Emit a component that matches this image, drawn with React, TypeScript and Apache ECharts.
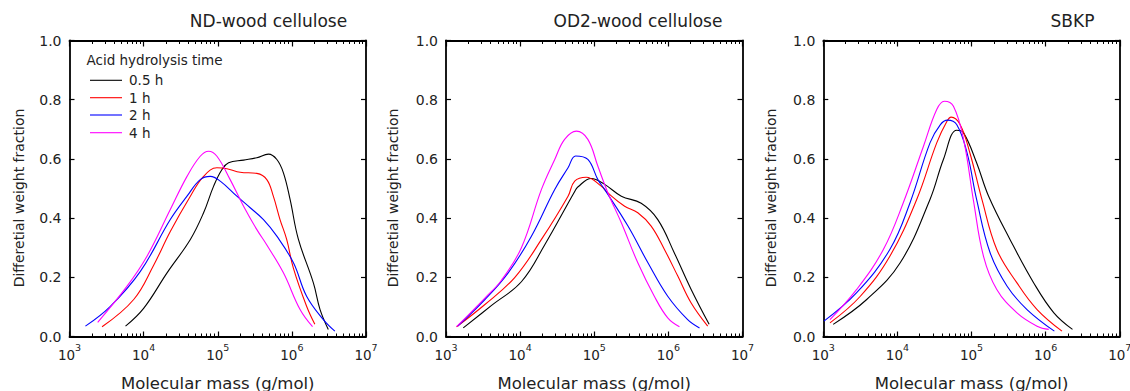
import React, { useEffect, useRef } from "react";
import * as echarts from "echarts";

const FONT = "'DejaVu Sans', 'Liberation Sans', sans-serif";
const TEXT = "#222222";

const panelTitles = ["ND-wood cellulose", "OD2-wood cellulose", "SBKP"];
const seriesNames = ["0.5 h", "1 h", "2 h", "4 h"];
const seriesColors = ["#000000", "#ff0000", "#0000ff", "#ff00ff"];
const legendHeading = "Acid hydrolysis time";
const xAxisTitle = "Molecular mass (g/mol)";
const yAxisTitle = "Differetial weight fraction";
const xExponentMin = 3;
const xExponentMax = 7;
const yMin = 0;
const yMax = 1;
const yStep = 0.2;

// [molecular mass (g/mol), differential weight fraction]
// ND-wood cellulose
const nd05 = [[5.7e3, 0.035], [1.0e4, 0.095], [2.07e4, 0.215], [4.27e4, 0.328], [6.44e4, 0.418], [8.8e4, 0.508], [1.14e5, 0.564], [1.4e5, 0.587], [2.23e5, 0.596], [3.37e5, 0.604], [4.83e5, 0.616], [6.27e5, 0.598], [7.69e5, 0.553], [9.46e5, 0.463], [1.22e6, 0.33], [1.95e6, 0.181], [2.4e6, 0.091], [3.1e6, 0.024]];
const nd1 = [[2.75e3, 0.033], [7.35e3, 0.125], [1.36e4, 0.24], [2.29e4, 0.355], [4.27e4, 0.474], [6.44e4, 0.541], [9.75e4, 0.57], [1.33e5, 0.567], [2.01e5, 0.555], [3.37e5, 0.551], [4.59e5, 0.53], [5.62e5, 0.474], [6.92e5, 0.395], [8.51e5, 0.328], [1.05e6, 0.23], [1.58e6, 0.102], [2.04e6, 0.041]];
const nd2 = [[1.64e3, 0.035], [3.56e3, 0.102], [9.04e3, 0.22], [2.29e4, 0.395], [3.85e4, 0.474], [5.8e4, 0.53], [7.93e4, 0.541], [1.08e5, 0.525], [1.81e5, 0.474], [2.74e5, 0.435], [4.14e5, 0.395], [6.27e5, 0.339], [1.05e6, 0.249], [1.58e6, 0.136], [2.66e6, 0.057], [3.8e6, 0.018]];
const nd4 = [[2.4e3, 0.048], [5.98e3, 0.17], [1.11e4, 0.271], [2.29e4, 0.429], [3.85e4, 0.541], [5.8e4, 0.609], [7.52e4, 0.626], [9.75e4, 0.609], [1.47e5, 0.53], [2.23e5, 0.44], [3.37e5, 0.361], [4.57e5, 0.31], [7.69e5, 0.215], [1.29e6, 0.091], [1.9e6, 0.033]];

// OD2-wood cellulose
const od05 = [[1.71e3, 0.029], [4.12e3, 0.105], [1.04e4, 0.185], [2.15e4, 0.31], [5.45e4, 0.49], [6.0e4, 0.505], [9.1e4, 0.534], [1.38e5, 0.514], [2.32e5, 0.474], [4.3e5, 0.45], [7.2e5, 0.395], [1.2e6, 0.283], [2.03e6, 0.159], [3.55e6, 0.041]];
const od1 = [[1.39e3, 0.033], [3.35e3, 0.108], [8.5e3, 0.2], [1.94e4, 0.328], [4.43e4, 0.474], [5.45e4, 0.525], [7.8e4, 0.538], [1.24e5, 0.508], [1.53e5, 0.485], [2.57e5, 0.44], [3.87e5, 0.418], [5.86e5, 0.373], [8.85e5, 0.294], [1.34e6, 0.204], [2.03e6, 0.113], [3.39e6, 0.035]];
const od2 = [[1.44e3, 0.035], [3.35e3, 0.125], [6.9e3, 0.215], [1.42e4, 0.339], [2.93e4, 0.497], [4.43e4, 0.57], [5.6e4, 0.61], [8.2e4, 0.598], [1.12e5, 0.53], [1.38e5, 0.497], [2.85e5, 0.373], [5.3e5, 0.249], [9.8e5, 0.136], [1.82e6, 0.057], [2.63e6, 0.029]];
const od4 = [[1.39e3, 0.033], [3.35e3, 0.13], [5.6e3, 0.19], [1.04e4, 0.3], [1.94e4, 0.497], [2.93e4, 0.598], [3.98e4, 0.666], [5.74e4, 0.694], [8.2e4, 0.666], [1.12e5, 0.575], [1.53e5, 0.485], [2.32e5, 0.384], [3.87e5, 0.249], [6.46e5, 0.136], [9.8e5, 0.063], [1.41e6, 0.033]];

// SBKP
const sb05 = [[1.36e3, 0.041], [3.85e3, 0.125], [1.09e4, 0.249], [2.75e4, 0.463], [4.17e4, 0.598], [6.3e4, 0.697], [7.8e4, 0.688], [1.17e5, 0.587], [1.7e5, 0.474], [3.3e5, 0.328], [6.9e5, 0.181], [1.29e6, 0.08], [2.3e6, 0.024]];
const sb1 = [[1.23e3, 0.046], [3.16e3, 0.136], [7.9e3, 0.271], [1.82e4, 0.463], [3.39e4, 0.654], [4.66e4, 0.727], [5.3e4, 0.741], [7.0e4, 0.716], [9.5e4, 0.62], [1.38e5, 0.463], [2.19e5, 0.294], [4.1e5, 0.181], [7.66e5, 0.091], [1.66e6, 0.018]];
const sb2 = [[1.02e3, 0.052], [2.82e3, 0.148], [7.9e3, 0.294], [1.48e4, 0.452], [2.75e4, 0.654], [3.8e4, 0.716], [4.74e4, 0.731], [6.3e4, 0.716], [8.7e4, 0.62], [1.17e5, 0.463], [1.78e5, 0.283], [3.02e5, 0.17], [5.6e5, 0.091], [1.31e6, 0.018]];
const sb4 = [[1.23e3, 0.057], [2.82e3, 0.159], [6.46e3, 0.294], [1.2e4, 0.452], [2.24e4, 0.642], [3.39e4, 0.767], [4.3e4, 0.795], [5.7e4, 0.778], [7.8e4, 0.666], [1.06e5, 0.46], [1.45e5, 0.271], [2.19e5, 0.159], [4.1e5, 0.08], [7.66e5, 0.035], [1.1e6, 0.024]];

const panelData = [
  [nd05, nd1, nd2, nd4],
  [od05, od1, od2, od4],
  [sb05, sb1, sb2, sb4],
];

// layout (pixels)
const gridLefts = [69.5, 446, 823.3];
const gridWidth = 296.5;
const gridTop = 40.5;
const gridHeight = 296;
const titleCenters = [268.5, 638, 1072.5];
const yNameX = [19, 392.5, 771];
const legendRowY = [80.3, 97.7, 115, 132.7];

function minorTickValues(): number[] {
  const out: number[] = [];
  for (let d = xExponentMin; d < xExponentMax; d++) {
    for (let k = 2; k <= 9; k++) out.push(d + Math.log10(k));
  }
  return out;
}

export default function App() {
  const ref = useRef<HTMLDivElement>(null);

  useEffect(() => {
    if (!ref.current) return;
    const chart = echarts.init(ref.current, null, { renderer: "svg" });
    const minor = minorTickValues();
    const axisLineStyle = { color: "#000", width: 1.8 };

    const grids: any[] = [];
    const xAxes: any[] = [];
    const yAxes: any[] = [];
    const series: any[] = [];
    const graphics: any[] = [];

    for (let p = 0; p < 3; p++) {
      grids.push({
        left: gridLefts[p],
        top: gridTop,
        width: gridWidth,
        height: gridHeight,
        containLabel: false,
        outerBoundsMode: "none",
      });
      const baseX = {
        type: "value",
        gridIndex: p,
        min: xExponentMin,
        max: xExponentMax,
        interval: 1,
        splitLine: { show: false },
      };
      xAxes.push({
        ...baseX,
        position: "bottom",
        axisLine: { show: true, onZero: false, lineStyle: axisLineStyle },
        axisTick: { show: true, inside: true, length: 5, lineStyle: { color: "#000", width: 1.2 } },
        axisLabel: {
          show: true,
          margin: 6,
          formatter: (v: number) => `{b|10}{e|${Math.round(v)}}`,
          rich: {
            b: { fontSize: 13.5, fontFamily: FONT, color: TEXT, verticalAlign: "bottom", lineHeight: 19 },
            e: { fontSize: 9.5, fontFamily: FONT, color: TEXT, verticalAlign: "top", lineHeight: 19 },
          },
        },
        name: xAxisTitle,
        nameLocation: "middle",
        nameGap: 38,
        nameTextStyle: { fontSize: 16.5, fontFamily: FONT, color: TEXT },
      });
      xAxes.push({
        ...baseX,
        position: "bottom",
        axisLine: { show: false, onZero: false },
        axisTick: { show: true, inside: true, length: 3, customValues: minor, lineStyle: { color: "#000", width: 1 } },
        axisLabel: { show: false },
      });
      xAxes.push({
        ...baseX,
        position: "top",
        axisLine: { show: true, onZero: false, lineStyle: axisLineStyle },
        axisTick: { show: true, inside: true, length: 6, lineStyle: { color: "#000", width: 1.2 } },
        axisLabel: { show: false },
      });
      xAxes.push({
        ...baseX,
        position: "top",
        axisLine: { show: false, onZero: false },
        axisTick: { show: true, inside: true, length: 3.5, customValues: minor, lineStyle: { color: "#000", width: 1 } },
        axisLabel: { show: false },
      });

      const baseY = {
        type: "value",
        gridIndex: p,
        min: yMin,
        max: yMax,
        interval: yStep,
        splitLine: { show: false },
      };
      yAxes.push({
        ...baseY,
        position: "left",
        axisLine: { show: true, onZero: false, lineStyle: axisLineStyle },
        axisTick: { show: true, inside: true, length: 5, lineStyle: { color: "#000", width: 1.2 } },
        axisLabel: {
          show: true,
          margin: 8,
          fontSize: 14,
          fontFamily: FONT,
          color: TEXT,
          formatter: (v: number) => v.toFixed(1),
        },
      });
      yAxes.push({
        ...baseY,
        position: "right",
        axisLine: { show: true, onZero: false, lineStyle: axisLineStyle },
        axisTick: { show: true, inside: true, length: 5, lineStyle: { color: "#000", width: 1.2 } },
        axisLabel: { show: false },
      });

      panelData[p].forEach((arr, s) => {
        series.push({
          type: "line",
          name: seriesNames[s],
          xAxisIndex: p * 4,
          yAxisIndex: p * 2,
          data: arr.map(([m, w]) => [Math.log10(m), w]),
          symbol: "none",
          smooth: 0.4,
          silent: true,
          lineStyle: { color: seriesColors[s], width: 1.1 },
          itemStyle: { color: seriesColors[s] },
          z: 3,
        });
      });

      graphics.push({
        type: "text",
        x: titleCenters[p],
        y: 21,
        style: {
          text: panelTitles[p],
          fontSize: 17,
          fontFamily: FONT,
          fill: TEXT,
          align: "center",
          verticalAlign: "middle",
        },
      });
      graphics.push({
        type: "text",
        x: yNameX[p],
        y: 198,
        rotation: Math.PI / 2,
        style: {
          text: yAxisTitle,
          fontSize: 14,
          fontFamily: FONT,
          fill: TEXT,
          align: "center",
          verticalAlign: "middle",
        },
      });
    }

    graphics.push({
      type: "text",
      x: 86.5,
      y: 60,
      style: {
        text: legendHeading,
        fontSize: 13.5,
        fontFamily: FONT,
        fill: TEXT,
        align: "left",
        verticalAlign: "middle",
      },
    });
    seriesNames.forEach((name, s) => {
      graphics.push({
        type: "line",
        shape: { x1: 90, y1: legendRowY[s], x2: 122, y2: legendRowY[s] },
        style: { stroke: seriesColors[s], lineWidth: 1.1 },
      });
      graphics.push({
        type: "text",
        x: 129,
        y: legendRowY[s],
        style: {
          text: name,
          fontSize: 13.5,
          fontFamily: FONT,
          fill: TEXT,
          align: "left",
          verticalAlign: "middle",
        },
      });
    });

    chart.setOption({
      animation: false,
      backgroundColor: "#ffffff",
      grid: grids,
      xAxis: xAxes,
      yAxis: yAxes,
      series,
      graphic: graphics,
    });

    return () => chart.dispose();
  }, []);

  return (
    <div
      ref={ref}
      style={{ position: "fixed", left: 0, top: 0, width: 1130, height: 391, background: "#fff" }}
    />
  );
}
